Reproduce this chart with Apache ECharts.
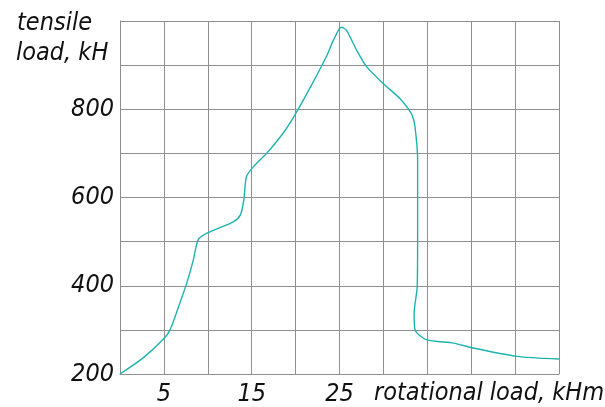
<!DOCTYPE html>
<html><head><meta charset="utf-8">
<script src="https://cdn.jsdelivr.net/npm/echarts@6/dist/echarts.min.js"></script>
<style>html,body{margin:0;padding:0;background:#fff}#c{width:605px;height:407px}</style>
</head><body><div id="c"></div>
<script>
const xTickLabels = [5, 15, 25];
const yTickLabels = [200, 400, 600, 800];
const rotationalLoad = [0, 2.6, 4.9, 5.7, 6.8, 7.6, 8.35, 8.9, 9.9, 12.9, 13.7, 14.1, 14.4, 15.2, 16.7, 18.4, 19.55, 21.3, 23.5, 24.3, 25.2, 25.8, 26.95, 28.1, 30.0, 31.9, 32.8, 33.3, 33.6, 33.9, 33.9, 33.85, 33.5, 33.6, 34.9, 38.0, 40.2, 45.2, 50.0];
const tensileLoad = [200, 236, 278, 300, 360, 406, 458, 504, 519, 545, 560, 594, 647, 670, 700, 741, 775, 836, 919, 956, 986, 979, 934, 896, 858, 824, 802, 785, 760, 685, 534, 398, 338, 300, 278, 270, 259, 240, 234];

const font = 'DejaVu Sans Condensed';
const txt = {fontFamily: font, fontStyle: 'italic', fontWeight: 'normal', fontSize: 25, color: '#111'};
const gfont = 'italic 25px "DejaVu Sans Condensed"';
const gridColor = '#8f8f8f';
const chart = echarts.init(document.getElementById('c'));
chart.setOption({
  animation: false,
  grid: {left: 120, right: 46, top: 21, bottom: 33},
  xAxis: {
    type: 'value', min: 0, max: 50, interval: 5,
    axisLine: {show: true, lineStyle: {color: gridColor, width: 1}},
    axisTick: {show: false},
    splitLine: {show: true, lineStyle: {color: gridColor, width: 1}},
    axisLabel: Object.assign({margin: 8, formatter: v => xTickLabels.includes(v) ? String(v) : ''}, txt)
  },
  yAxis: {
    type: 'value', min: 200, max: 1000, interval: 100,
    axisLine: {show: true, lineStyle: {color: gridColor, width: 1}},
    axisTick: {show: false},
    splitLine: {show: true, lineStyle: {color: gridColor, width: 1}},
    axisLabel: Object.assign({margin: 6, formatter: v => yTickLabels.includes(v) ? String(v) : ''}, txt)
  },
  graphic: [
    {type: 'text', left: 17, top: 11, style: {text: 'tensile', fill: '#111', font: gfont}},
    {type: 'text', left: 16, top: 41, style: {text: 'load, kH', fill: '#111', font: gfont}},
    {type: 'text', left: 374, top: 381, style: {text: 'rotational load, kHm', fill: '#111', font: gfont}}
  ],
  series: [{
    type: 'line', smooth: 0.25, showSymbol: false,
    data: rotationalLoad.map((x, i) => [x, tensileLoad[i]]),
    lineStyle: {color: '#1db4b0', width: 1.4}
  }]
});
</script></body></html>
